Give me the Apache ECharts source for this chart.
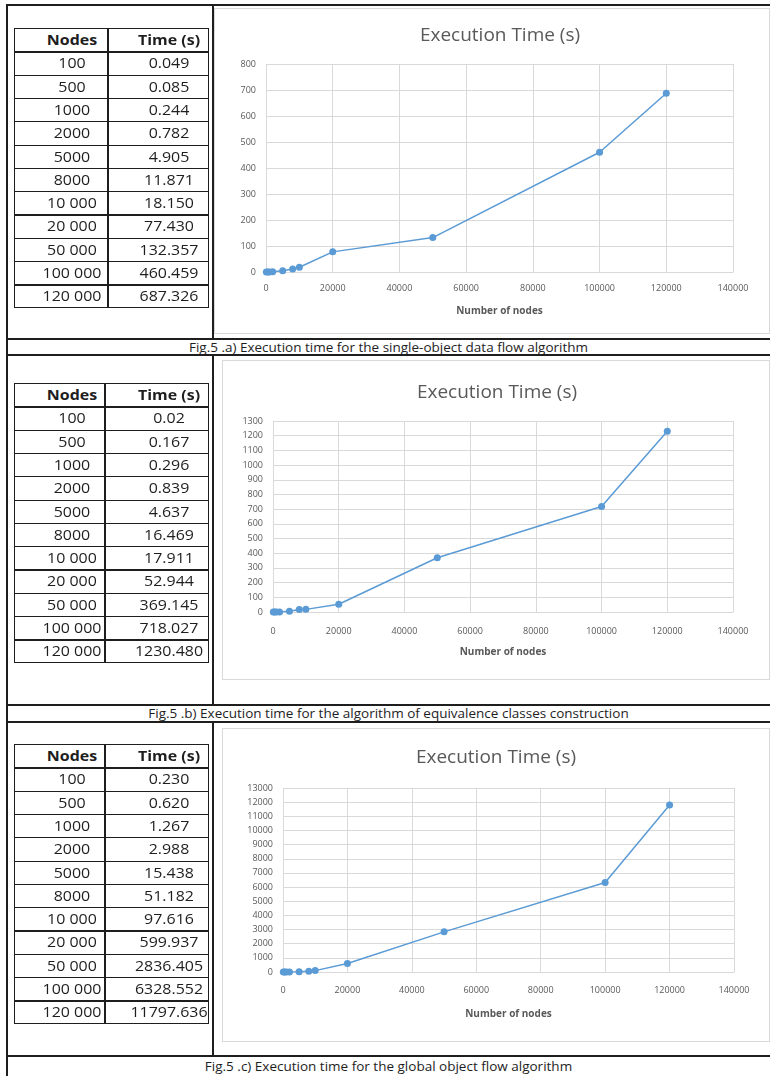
<!DOCTYPE html>
<html>
<head>
<meta charset="utf-8">
<script src="https://cdn.jsdelivr.net/npm/echarts@6/dist/echarts.min.js"></script>
<style>
  body { margin: 0; background: #fff; width: 770px; height: 1076px; position: relative; overflow: hidden; font-family: 'Open Sans', sans-serif; color: #1e1e1e; }
  .ln { position: absolute; background: #1e1e1e; }
  .chart { position: absolute; border: 1px solid #d9d9d9; box-sizing: border-box; }
  .tbl { position: absolute; border: 1.5px solid #1e1e1e; box-sizing: border-box; }
  .cell { position: absolute; width: 120px; text-align: center; font-size: 14px; transform: scaleX(1.14); white-space: nowrap; }
  .cell.hd { font-weight: bold; }
  .caption { position: absolute; left: 7px; width: 763px; text-align: center; font-size: 13.5px; line-height: 16px; }
</style>
</head>
<body>
<div id="chartA" class="chart" style="left:214px;top:8px;width:556px;height:326px"></div>
<div id="chartB" class="chart" style="left:222px;top:360px;width:548px;height:320px"></div>
<div id="chartC" class="chart" style="left:222px;top:728px;width:548px;height:314px"></div>
<script>
// data
const nodes = [100, 500, 1000, 2000, 5000, 8000, 10000, 20000, 50000, 100000, 120000]
const timeA = ['0.049', '0.085', '0.244', '0.782', '4.905', '11.871', '18.150', '77.430', '132.357', '460.459', '687.326']
const timeB = ['0.02', '0.167', '0.296', '0.839', '4.637', '16.469', '17.911', '52.944', '369.145', '718.027', '1230.480']
const timeC = ['0.230', '0.620', '1.267', '2.988', '15.438', '51.182', '97.616', '599.937', '2836.405', '6328.552', '11797.636']
const captions = [
  'Fig.5 .a) Execution time for the single-object data flow algorithm',
  'Fig.5 .b) Execution time for the algorithm of equivalence classes construction',
  'Fig.5 .c) Execution time for the global object flow algorithm',
]
const xMax = 140000
const xStep = 20000
const yMaxA = 800, yStepA = 100
const yMaxB = 1300, yStepB = 100
const yMaxC = 13000, yStepC = 1000

const body = document.body

function line(x, y, w, h) {
  const d = document.createElement('div')
  d.className = 'ln'
  d.style.cssText = `left:${x}px;top:${y}px;width:${w}px;height:${h}px`
  body.appendChild(d)
}

// outer frame
line(6, 4, 764, 2)
line(6, 4, 2, 1072)
line(6, 338, 764, 2)
line(6, 354, 764, 2)
line(6, 704, 764, 2)
line(6, 721, 764, 2)
line(6, 1055, 764, 2)
line(212, 4, 2, 336)
line(212, 354, 2, 352)
line(212, 721, 2, 336)

function caption(text, y) {
  const d = document.createElement('div')
  d.className = 'caption'
  d.style.top = y + 'px'
  d.textContent = text
  body.appendChild(d)
}
caption(captions[0], 339)
caption(captions[1], 705)
caption(captions[2], 1058)

function fmtNodes(n) {
  return n >= 10000 ? String(n).replace(/(\d)(?=(\d{3})+$)/g, '$1 ') : String(n)
}

// 数据表格
function buildTable(top, split, times) {
  const left = 14, right = 209, rh = 23.3
  const box = document.createElement('div')
  box.className = 'tbl'
  box.style.cssText = `left:${left}px;top:${top}px;width:${right - left}px;height:${rh * 12}px`
  body.appendChild(box)
  line(split, top, 1.5, rh * 12)
  const rows = [['Nodes', 'Time (s)']].concat(nodes.map((n, i) => [fmtNodes(n), times[i]]))
  rows.forEach((r, i) => {
    const y = top + i * rh
    if (i > 0) line(left, y, right - left, 1.3)
    ;[72, 169].forEach((cx, j) => {
      const c = document.createElement('div')
      c.className = i === 0 ? 'cell hd' : 'cell'
      c.style.cssText = `left:${cx - 60}px;top:${y}px;line-height:${rh}px`
      c.textContent = r[j]
      body.appendChild(c)
    })
  })
}
buildTable(28, 107, timeA)
buildTable(383, 104, timeB)
buildTable(744, 104, timeC)

const grey = '#d9d9d9'
const textGrey = '#595959'

function makeChart(id, times, yMax, yStep, g) {
  const chart = echarts.init(document.getElementById(id))
  chart.setOption({
    animation: false,
    title: {
      text: 'Execution Time (s)',
      left: g.titleX,
      top: g.titleY,
      textAlign: 'center',
      textStyle: { fontFamily: 'Open Sans', fontSize: 19, fontWeight: 'normal', color: textGrey },
    },
    grid: { left: g.left, top: g.top, width: g.width, height: g.height },
    xAxis: {
      type: 'value',
      min: 0,
      max: xMax,
      interval: xStep,
      axisLine: { show: true, lineStyle: { color: grey } },
      axisTick: { show: false },
      splitLine: { show: true, lineStyle: { color: grey } },
      axisLabel: { fontFamily: 'Open Sans', fontSize: 9, color: textGrey, margin: g.labelGap, formatter: v => String(v) },
      name: 'Number of nodes',
      nameLocation: 'middle',
      nameGap: g.nameGap,
      nameTextStyle: { fontFamily: 'Open Sans', fontSize: 10, fontWeight: 'bold', color: textGrey },
    },
    yAxis: {
      type: 'value',
      min: 0,
      max: yMax,
      interval: yStep,
      axisLine: { show: false },
      axisTick: { show: false },
      splitLine: { show: true, lineStyle: { color: grey } },
      axisLabel: { fontFamily: 'Open Sans', fontSize: 9, color: textGrey, margin: 10, formatter: v => String(v) },
    },
    series: [
      {
        type: 'line',
        data: nodes.map((n, i) => [n, Number(times[i])]),
        symbol: 'circle',
        symbolSize: 7,
        itemStyle: { color: '#5B9BD5' },
        lineStyle: { color: '#5B9BD5', width: 1.5 },
      },
    ],
  })
}

makeChart('chartA', timeA, yMaxA, yStepA, { titleX: 280, titleY: 12, left: 51, top: 55, width: 467, height: 208, labelGap: 12, nameGap: 34 })
makeChart('chartB', timeB, yMaxB, yStepB, { titleX: 269, titleY: 17, left: 50, top: 60, width: 460, height: 191, labelGap: 15, nameGap: 35 })
makeChart('chartC', timeC, yMaxC, yStepC, { titleX: 268, titleY: 14, left: 60, top: 59, width: 451, height: 184, labelGap: 14, nameGap: 37 })
</script>
</body>
</html>
